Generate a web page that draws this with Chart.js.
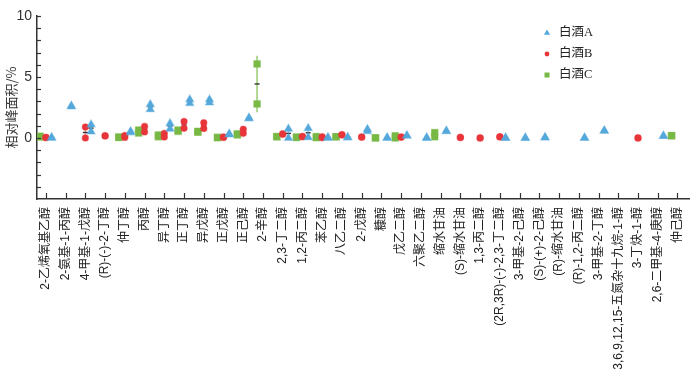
<!DOCTYPE html>
<html><head><meta charset="utf-8">
<script src="https://cdn.jsdelivr.net/npm/chart.js@4.4.1/dist/chart.umd.min.js"></script>
<style>html,body{margin:0;padding:0;background:#fff}</style>
</head><body>
<canvas id="c" width="700" height="380"></canvas>
<script>
const categories = ['2-乙烯氧基乙醇','2-氨基-1-丙醇','4-甲基-1-戊醇','(R)-(-)-2-丁醇','仲丁醇','丙醇','异丁醇','正丁醇','异戊醇','正戊醇','正己醇','2-辛醇','2,3-丁二醇','1,2-丙二醇','苯乙醇','八乙二醇','2-戊醇','糠醇','戊乙二醇','六聚乙二醇','缩水甘油','(S)-缩水甘油','1,3-丙二醇','(2R,3R)-(-)-2,3-丁二醇','3-甲基-2-己醇','(S)-(+)-2-己醇','(R)-缩水甘油','(R)-1,2-丙二醇','3-甲基-2-丁醇','3,6,9,12,15-五氮杂十九烷-1-醇','3-丁炔-1-醇','2,6-二甲基-4-庚醇','仲己醇'];
const seriesNames = ['白酒A','白酒B','白酒C'];
// replicate values (relative peak area, %), null = not detected
const liquorA_rep1 = [0.05,2.63,1.1,null,0.55,2.75,1.2,3.15,3.15,0.35,1.65,null,0.75,0.8,0.05,0.06,0.72,0.03,0.2,0.02,0.58,null,null,0.01,0.01,0.05,null,0.02,0.6,null,null,0.18,null];
const liquorA_rep2 = [0.0,2.57,0.52,null,0.45,2.35,0.75,2.85,2.9,0.28,1.6,null,0.0,0.05,0.0,0.04,0.55,0.0,0.18,0.0,0.55,null,null,0.0,0.0,0.03,null,0.0,0.58,null,null,0.15,null];
const liquorB_rep1 = [0.06,null,0.9,0.18,0.2,0.95,0.38,1.35,1.25,0.08,0.72,null,0.35,0.12,0.1,0.28,0.08,null,0.08,null,null,0.05,0.01,0.1,null,null,null,null,null,null,0.01,null,null];
const liquorB_rep2 = [0.02,null,0.0,0.16,0.05,0.5,0.08,0.8,0.78,0.05,0.38,null,0.3,0.1,0.02,0.25,0.07,null,0.07,null,null,0.04,0.0,0.08,null,null,null,null,null,null,0.0,null,null];
const liquorC_rep1 = [0.15,null,null,null,0.08,0.65,0.25,0.65,0.55,0.05,0.35,6.07,0.12,0.08,0.12,0.1,null,0.02,0.18,null,0.45,null,null,null,null,null,null,null,null,null,null,null,0.2];
const liquorC_rep2 = [0.08,null,null,null,0.05,0.4,0.1,0.55,0.48,0.03,0.25,2.79,0.1,0.05,0.02,0.1,null,0.0,0.0,null,0.1,null,null,null,null,null,null,null,null,null,null,null,0.18];
const yTickLabels = [0,5,10];

const styles = [
  {off:0.29, style:'triangle', r:4.6, fill:'#55a8db', border:'rgba(85,168,219,0.45)', bar:'#9fcdec'},
  {off:0.0, style:'circle', r:3.2, fill:'#e8353a', border:'rgba(232,53,58,0.4)', bar:'#f29c9e'},
  {off:-0.3, style:'rect', r:4.6, fill:'#78b844', border:'rgba(120,184,68,0.45)', bar:'#aad488'}
];
const reps = [[liquorA_rep1, liquorA_rep2],[liquorB_rep1, liquorB_rep2],[liquorC_rep1, liquorC_rep2]];

function pts(r1, r2, off){
  const out = [];
  r1.forEach((v,i)=>{
    if (v != null) out.push({x:i+off, y:v});
    if (r2[i] != null) out.push({x:i+off, y:r2[i]});
  });
  return out;
}

const datasets = seriesNames.map((name, k) => ({
  label: name,
  data: pts(reps[k][0], reps[k][1], styles[k].off),
  pointStyle: styles[k].style,
  pointRadius: styles[k].r,
  pointBackgroundColor: styles[k].fill,
  pointBorderColor: styles[k].border,
  pointBorderWidth: 1.2,
  showLine: false
}));

const decor = {
  id: 'decor',
  beforeDatasetsDraw(chart){
    const {ctx, scales:{x, y}} = chart;
    ctx.save();
    seriesNames.forEach((n, k) => {
      const [r1, r2] = reps[k];
      r1.forEach((a, i) => {
        const b = r2[i];
        if (a == null || b == null) return;
        const mean = (a + b) / 2;
        const sd = Math.abs(a - b) / Math.SQRT2;
        const px = x.getPixelForValue(i + styles[k].off);
        ctx.strokeStyle = styles[k].bar;
        ctx.lineWidth = 1.8;
        ctx.beginPath();
        ctx.moveTo(px, y.getPixelForValue(mean - sd));
        ctx.lineTo(px, y.getPixelForValue(mean + sd));
        ctx.stroke();
        ctx.strokeStyle = '#333';
        ctx.lineWidth = 1.4;
        ctx.beginPath();
        const py = y.getPixelForValue(mean);
        ctx.moveTo(px - 2.5, py);
        ctx.lineTo(px + 2.5, py);
        ctx.stroke();
      });
    });
    ctx.restore();
  },
  afterDraw(chart){
    const {ctx, chartArea, scales:{x, y}} = chart;
    ctx.save();
    ctx.strokeStyle = '#333';
    ctx.lineWidth = 1.2;
    // inward ticks
    categories.forEach((c, i) => {
      const px = Math.round(x.getPixelForValue(i)) + 0.5;
      ctx.beginPath();
      ctx.moveTo(px, chartArea.bottom);
      ctx.lineTo(px, chartArea.bottom - 6);
      ctx.stroke();
    });
    for (let v = y.min + 1; v <= y.max; v++) {
      const py = Math.round(y.getPixelForValue(v)) + 0.5;
      ctx.beginPath();
      ctx.moveTo(chartArea.left, py);
      ctx.lineTo(chartArea.left + 4, py);
      ctx.stroke();
    }
    // legend
    const lx = chartArea.left + 510;
    const rows = [33, 54, 75];
    seriesNames.forEach((name, k) => {
      const cy = rows[k];
      ctx.fillStyle = styles[k].fill;
      ctx.beginPath();
      if (styles[k].style === 'triangle') {
        const r = 3.6;
        ctx.moveTo(lx, cy - r);
        ctx.lineTo(lx + r * 0.866, cy + r / 2);
        ctx.lineTo(lx - r * 0.866, cy + r / 2);
        ctx.closePath();
      } else if (styles[k].style === 'circle') {
        ctx.arc(lx, cy, 2.4, 0, Math.PI * 2);
      } else {
        ctx.rect(lx - 2.5, cy - 2.5, 5, 5);
      }
      ctx.fill();
      ctx.fillStyle = '#222';
      ctx.font = "12.5px 'Liberation Serif','Noto Sans CJK SC'";
      ctx.textBaseline = 'middle';
      ctx.textAlign = 'left';
      ctx.fillText(name, lx + 12, cy);
    });
    ctx.restore();
  }
};

new Chart(document.getElementById('c'), {
  type: 'scatter',
  data: { datasets },
  options: {
    responsive: false,
    devicePixelRatio: 1,
    animation: false,
    layout: { padding: { top: 16, right: 2, left: 0, bottom: 0 } },
    plugins: { legend: { display: false }, tooltip: { enabled: false } },
    scales: {
      x: {
        type: 'linear',
        min: -0.45,
        max: 32.6,
        afterBuildTicks: s => { s.ticks = categories.map((c, i) => ({ value: i })); },
        afterFit: s => { s.height = 181; },
        ticks: {
          autoSkip: false, minRotation: 90, maxRotation: 90, padding: 8,
          color: '#222',
          font: { size: 12, family: "'Liberation Sans','Noto Sans CJK SC'" },
          callback: v => categories[v]
        },
        grid: { display: true, drawOnChartArea: false, drawTicks: false },
        border: { display: true, color: '#333', width: 1.5 }
      },
      y: {
        min: -5,
        max: 10,
        afterBuildTicks: s => { s.ticks = yTickLabels.map(v => ({ value: v })); },
        afterFit: s => { s.width = 37; },
        ticks: {
          padding: 5, color: '#333',
          font: { size: 14, family: "'Liberation Sans','Noto Sans CJK SC'" }
        },
        title: {
          display: true, text: '相对峰面积/%', color: '#333',
          font: { size: 13, family: "'Noto Sans CJK SC'" },
          padding: { top: 3, bottom: 0 }
        },
        grid: { display: true, drawOnChartArea: false, drawTicks: false },
        border: { display: true, color: '#333', width: 1.5 }
      }
    }
  },
  plugins: [decor]
});
</script>
</body></html>
